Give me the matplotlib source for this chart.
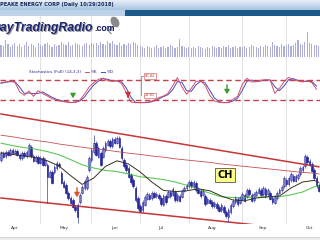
import matplotlib
matplotlib.use("Agg")
import matplotlib.pyplot as plt
from matplotlib.colors import LinearSegmentedColormap
from matplotlib.patches import Rectangle, Ellipse
import numpy as np
import pandas as pd

# daily bars (Apr - Oct 2018)
dates = pd.bdate_range("2018-04-06", periods=138, freq="C",
                       holidays=["2018-05-28", "2018-07-04", "2018-09-03"])

opens = [4.50, 4.68, 4.60, 4.70, 4.63, 4.75, 4.68, 4.73, 4.63, 4.55,
         4.68, 4.60, 4.63, 4.83, 4.60, 4.48, 4.58, 4.43, 4.55, 4.38,
         4.38, 4.08, 4.20, 4.20, 4.30, 4.40, 4.18, 3.95, 3.88, 3.68,
         3.55, 3.50, 3.33, 3.38, 3.45, 3.68, 3.80, 3.80, 4.25, 4.50,
         4.70, 4.93, 4.58, 4.68, 4.58, 4.75, 4.88, 4.98, 4.85, 5.03,
         4.93, 5.05, 4.80, 4.50, 4.38, 4.30, 4.13, 4.00, 3.80, 3.55,
         3.35, 3.25, 3.38, 3.53, 3.63, 3.55, 3.68, 3.60, 3.63, 3.55,
         3.38, 3.60, 3.58, 3.70, 3.63, 3.70, 3.50, 3.60, 3.58, 3.73,
         3.80, 3.85, 3.95, 3.85, 3.93, 3.78, 3.73, 3.63, 3.60, 3.43,
         3.50, 3.45, 3.35, 3.40, 3.33, 3.25, 3.33, 3.20, 3.08, 3.20,
         3.35, 3.45, 3.53, 3.43, 3.53, 3.63, 3.58, 3.75, 3.63, 3.50,
         3.63, 3.68, 3.75, 3.65, 3.78, 3.65, 3.68, 3.55, 3.43, 3.55,
         3.68, 3.75, 3.85, 4.00, 3.90, 4.00, 4.10, 3.98, 4.05, 4.15,
         4.25, 4.35, 4.58, 4.48, 4.40, 4.25, 4.05, 3.88]
closes = [4.68, 4.58, 4.70, 4.63, 4.75, 4.68, 4.73, 4.63, 4.55, 4.68,
          4.60, 4.70, 4.88, 4.60, 4.48, 4.58, 4.43, 4.55, 4.38, 4.50,
          4.08, 4.20, 3.93, 4.33, 4.43, 4.35, 3.93, 3.83, 3.68, 3.55,
          3.43, 3.33, 3.25, 3.08, 3.63, 3.83, 3.98, 4.08, 4.55, 4.75,
          4.93, 4.63, 4.80, 4.38, 4.80, 4.93, 4.98, 4.85, 5.03, 4.93,
          5.05, 4.83, 4.55, 4.35, 4.25, 4.08, 3.95, 3.85, 3.50, 3.30,
          3.23, 3.45, 3.58, 3.65, 3.53, 3.68, 3.58, 3.65, 3.55, 3.40,
          3.60, 3.45, 3.70, 3.60, 3.78, 3.50, 3.63, 3.48, 3.73, 3.80,
          3.88, 3.95, 3.85, 3.95, 3.75, 3.68, 3.60, 3.73, 3.40, 3.53,
          3.43, 3.35, 3.43, 3.30, 3.23, 3.38, 3.20, 3.10, 3.25, 3.38,
          3.48, 3.55, 3.40, 3.55, 3.65, 3.48, 3.75, 3.65, 3.48, 3.65,
          3.70, 3.78, 3.63, 3.80, 3.60, 3.75, 3.53, 3.45, 3.58, 3.68,
          3.75, 3.83, 4.05, 3.90, 4.05, 4.15, 3.98, 4.10, 4.13, 4.30,
          4.33, 4.60, 4.45, 4.38, 4.23, 4.05, 3.85, 3.73]
long_wicks = {20: 3.43, 33: 2.93, 40: 5.13, 98: 2.95}

volume = [36, 33, 51, 39, 30, 36, 42, 33, 39, 30, 36, 45, 33, 39, 36, 30, 42,
          36, 33, 39, 42, 36, 30, 39, 33, 36, 45, 39, 36, 45, 33, 36, 42, 39, 36, 33, 39, 42, 36,
          42, 39, 42, 36, 45, 39, 36, 48, 42, 48, 39, 36, 42, 33, 39, 36, 42, 39, 45, 42, 36, 33,
          30, 27, 33, 30, 27, 30, 36, 27, 30, 33, 27, 30, 36, 33, 27, 30, 54, 33, 30, 27, 30,
          27, 30, 27, 33, 30, 27, 24, 30, 27, 33, 30, 27, 30, 27, 33, 30, 36, 27, 30, 33, 27, 30,
          30, 33, 27, 30, 36, 33, 30, 27, 33, 30, 36, 33, 30, 45, 36, 33, 30, 39, 33, 36, 39, 33,
          36, 42, 51, 39, 36, 45, 75, 42, 39, 36, 36, 33]

# moving averages, read every 5th session (+ last one)
ma20 = [4.68, 4.64, 4.60, 4.56, 4.48, 4.35, 4.11, 3.89, 4.05, 4.34,
        4.48, 4.40, 4.20, 3.95, 3.74, 3.71, 3.73, 3.78, 3.73, 3.60,
        3.50, 3.48, 3.55, 3.58, 3.60, 3.80, 3.95, 3.99, 3.94]
ma50 = [4.92, 4.86, 4.81, 4.77, 4.71, 4.63, 4.51, 4.38, 4.30, 4.24,
        4.21, 4.15, 4.08, 4.05, 4.01, 3.95, 3.87, 3.77, 3.67, 3.58,
        3.56, 3.56, 3.57, 3.58, 3.58, 3.63, 3.70, 3.83, 3.85]
ma200 = [5.12, 5.08, 5.03, 4.99, 4.95, 4.90, 4.86, 4.82, 4.78, 4.75,
         4.71, 4.67, 4.64, 4.60, 4.57, 4.53, 4.50, 4.47, 4.44, 4.40,
         4.37, 4.34, 4.31, 4.28, 4.25, 4.22, 4.19, 4.17, 4.15]

# trend channel (first and last session)
channel_top = [5.65, 4.33]
channel_bottom = [3.55, 2.71]

# stochastics (14,3,3), read every 2nd session
stoch_k = [72, 74, 77, 73, 45, 34, 47, 31, 48, 39, 32, 24, 19, 16, 14, 12, 14, 20, 38, 59,
           72, 82, 86, 78, 76, 79, 69, 42, 14, 12, 12, 13, 14, 20, 27, 32, 40, 63, 87, 59,
           37, 55, 75, 78, 64, 34, 17, 13, 12, 13, 22, 31, 67, 85, 74, 75, 80, 80, 80, 40,
           55, 75, 88, 80, 77, 74, 78, 72, 52]
stoch_d = [70, 73, 75, 75, 59, 40, 41, 39, 40, 44, 36, 28, 22, 18, 15, 13, 13, 17, 29, 48,
           65, 77, 84, 82, 77, 77, 74, 56, 28, 13, 12, 12, 13, 17, 23, 30, 36, 51, 75, 73,
           48, 46, 65, 76, 71, 49, 26, 15, 12, 12, 17, 26, 49, 76, 80, 75, 77, 80, 80, 60,
           48, 62, 81, 84, 79, 76, 76, 75, 62]
stoch_tags = ["80.82", "21.81"]

n = len(closes)
x = np.arange(n)
o = np.array(opens)
c = np.array(closes)
body_lo = np.minimum(o, c)
body_hi = np.maximum(o, c)
highs = body_hi + 0.04
lows = body_lo - 0.04
for i, v in long_wicks.items():
    if v > body_hi[i]:
        highs[i] = v
    else:
        lows[i] = v

ma_x = np.r_[x[::5], x[-1]]
st_x = x[::2]

months = dates.to_period("M")
month_starts = [i for i in range(1, n) if months[i] != months[i - 1]]
month_mids = [i for i in range(n) if dates[i].day >= 15 and (i == 0 or dates[i - 1].day < 15)]
month_names = [dates[i].strftime("%b") for i in month_mids]

W, H = 320, 240
fig = plt.figure(figsize=(3.2, 2.4), dpi=100)
fig.patch.set_facecolor("white")


def panel(top, bottom):
    return fig.add_axes([0, 1 - bottom / H, 1, (bottom - top) / H])


xlim = (-0.43, n - 0.5)
grid_c = "#dddddd"

# volume
ax_v = panel(16, 62)
ax_v.bar(x, volume, width=0.5, color="#aeaedb", linewidth=0)
ax_v.set_ylim(-15, 123)

# stochastics
ax_s = panel(62, 107)
ax_s.plot(st_x, stoch_d, color="#4a4ac0", lw=0.7)
ax_s.plot(st_x, stoch_k, color="#d8506a", lw=0.7)
for lvl in (80, 20):
    ax_s.axhline(lvl, color="#c8404a", lw=1.0, dashes=(4, 2.5))
ax_s.set_ylim(-1, 134)

# price
ax_p = panel(107, 224)
ax_p.plot([x[0], x[-1]], channel_top, color="#c83535", lw=1.1)
ax_p.plot([x[0], x[-1]], channel_bottom, color="#c83535", lw=1.1)
ax_p.plot(ma_x, ma200, color="#c85050", lw=0.6)
ax_p.plot(ma_x, ma50, color="#5cc85c", lw=0.8)
ax_p.plot(ma_x, ma20, color="#3a3020", lw=0.7)
ax_p.vlines(x, lows, highs, color="#2a2a98", lw=0.45)
up = c >= o
h = np.maximum(body_hi - body_lo, 0.01)
ax_p.bar(x[up], h[up], bottom=body_lo[up], width=0.7, color="white",
         edgecolor="#3535b0", linewidth=0.45)
ax_p.bar(x[~up], h[~up], bottom=body_lo[~up], width=0.7, color="#22229a",
         edgecolor="#22229a", linewidth=0.45)
ax_p.set_ylim(2.90, 5.825)
ax_p.set_xticks(month_mids)
ax_p.set_xticklabels(month_names, fontsize=3.2, color="#333333")
ax_p.tick_params(axis="x", length=0, pad=1.5)

for ax in (ax_v, ax_s, ax_p):
    ax.set_xlim(*xlim)
    for m in month_starts:
        ax.axvline(m, color=grid_c, lw=0.6, zorder=0)
    for sp in ax.spines.values():
        sp.set_visible(False)
    ax.set_yticks([])
    if ax is not ax_p:
        ax.set_xticks([])

# overlay in pixel coordinates for the header, logo and annotations
ov = fig.add_axes([0, 0, 1, 1], zorder=10)
ov.axis("off")
grad = np.linspace(0, 1, 20).reshape(-1, 1)
ov.imshow(grad, extent=[0, 320, 10, 0], aspect="auto",
          cmap=LinearSegmentedColormap.from_list("hdr", ["#e6eff8", "#a8c4e0"]))
ov.add_patch(Rectangle((0, 10), 125, 5.5, color="#bcd2e8", lw=0))
ov.add_patch(Rectangle((125, 10), 195, 5.5, color="#1d5a8c", lw=0))
ov.text(0, 4.8, "PEAKE ENERGY CORP (Daily 10/29/2018)", fontsize=3.6,
        fontweight="bold", color="#1a2a5a", va="center", ha="left")
ov.add_patch(Rectangle((0, 236.5), 320, 3.5, color="#eeeeee", lw=0))
ov.plot([0, 320], [236.5, 236.5], color="#cfcfcf", lw=0.6)

# logo
ov.add_patch(Ellipse((115, 22), 6.5, 10, angle=-30, color="#8a8a8a"))
ov.plot([112, 108.5, 111], [27, 31, 33.5], color="#8a8a8a", lw=0.9)
logo_font = ["Liberation Sans Narrow", "Liberation Sans"]
for dx, col in ((0.8, "#9a9a9a"), (0, "#1a2670")):
    t = ov.text(-8 + dx, 31 + dx, "DayTradingRadio", fontsize=8.8, fontweight="bold",
                style="italic", family=logo_font, color=col, va="baseline")
    ov.annotate(".com", xy=(1, 0), xycoords=t, xytext=(0.3, 1.0), textcoords="offset points",
                fontsize=6.3, fontweight="bold", family=logo_font, color=col, va="bottom")

# stochastics legend
ov.text(29, 72, "Stochastics (Full) (14,3,3)", fontsize=3, color="#2a2a8a", va="center")
ov.plot([85, 89], [72, 72], color="#d8506a", lw=0.7)
ov.text(90.5, 72, "%K", fontsize=3, color="#2a2a8a", va="center")
ov.plot([101, 105], [72, 72], color="#4a4ac0", lw=0.7)
ov.text(106.5, 72, "%D", fontsize=3, color="#2a2a8a", va="center")

# tags on the stochastics
for tag, ty in zip(stoch_tags, (76, 95.5)):
    ov.text(150, ty, tag, fontsize=2.6, color="#c03030", ha="center", va="center",
            bbox=dict(boxstyle="square,pad=0.25", fc="white", ec="#d07070", lw=0.5))
ov.plot([143, 141, 141], [76, 76, 95], color="#c05050", lw=0.5)

arrow_kw = dict(arrowstyle="-|>,head_width=0.15,head_length=0.25", lw=1.0)
ov.annotate("", xy=(73, 101), xytext=(73, 92), arrowprops=dict(color="#3c9a30", **arrow_kw))
ov.annotate("", xy=(227, 97), xytext=(227, 82), arrowprops=dict(color="#3c9a30", **arrow_kw))
ov.annotate("", xy=(128, 100), xytext=(128, 94), arrowprops=dict(color="#d03030", **arrow_kw))
ov.annotate("", xy=(77, 200), xytext=(77, 185), arrowprops=dict(color="#e05030", **arrow_kw))

ov.text(225, 175, "CH", fontsize=7, fontweight="bold", color="black", ha="center", va="center",
        bbox=dict(boxstyle="square,pad=0.25", fc="#ffff88", ec="#555555", lw=0.6))

ov.set_xlim(0, W)
ov.set_ylim(H, 0)

fig.savefig("out.png", dpi=100)
